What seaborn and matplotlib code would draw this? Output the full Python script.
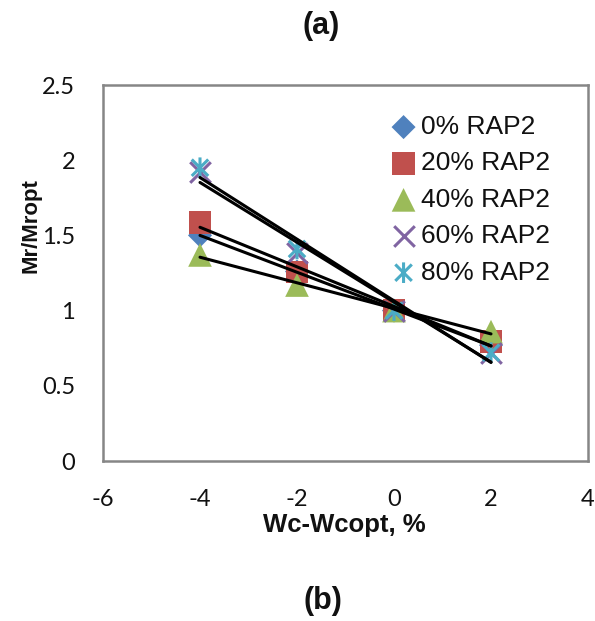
import numpy as np
import pandas as pd
import matplotlib
matplotlib.use("Agg")
import matplotlib.pyplot as plt
from matplotlib.path import Path
import seaborn as sns

# ---- data ----
wc_diff = [-4, -2, 0, 2]
series_names = ["0% RAP2", "20% RAP2", "40% RAP2", "60% RAP2", "80% RAP2"]
rap0 = [1.50, 1.26, 1.00, 0.77]
rap20 = [1.586, 1.257, 1.00, 0.795]
rap40 = [1.37, 1.17, 1.00, 0.86]
rap60 = [1.92, 1.38, 1.00, 0.72]
rap80 = [1.95, 1.41, 1.00, 0.72]
x_ticks = [-6, -4, -2, 0, 2, 4]
y_ticks = [0, 0.5, 1, 1.5, 2, 2.5]

values = [rap0, rap20, rap40, rap60, rap80]
df = pd.DataFrame({
    "x": wc_diff * len(series_names),
    "y": sum(values, []),
    "series": np.repeat(series_names, len(wc_diff)),
})

sns.set_theme(style="white")
plt.rcParams["font.family"] = ["Liberation Sans", "DejaVu Sans"]

asterisk = Path([(-1, -1), (1, 1), (-1, 1), (1, -1), (0, -1.25), (0, 1.25)],
                [Path.MOVETO, Path.LINETO, Path.MOVETO, Path.LINETO, Path.MOVETO, Path.LINETO])

styles = {
    "0% RAP2": dict(color="#4F81BD", marker="D", s=150, kind="filled"),
    "20% RAP2": dict(color="#C0504D", marker="s", s=260, kind="filled"),
    "40% RAP2": dict(color="#9BBB59", marker="^", s=290, kind="filled"),
    "60% RAP2": dict(color="#8064A2", marker="x", s=220, kind="line"),
    "80% RAP2": dict(color="#4BACC6", marker=asterisk, s=220, kind="path"),
}

fig = plt.figure(figsize=(5.95, 6.21), dpi=100)
ax = fig.add_axes([103/595, 1-461/621, (588-103)/595, (461-85)/621])

for name in series_names:
    st = styles[name]
    sub = df[df["series"] == name]
    if st["kind"] == "filled":
        sns.scatterplot(data=sub, x="x", y="y", ax=ax, color=st["color"], marker=st["marker"],
                        s=st["s"], edgecolor="none", linewidth=0, label=name, zorder=3)
    elif st["kind"] == "line":
        sns.scatterplot(data=sub, x="x", y="y", ax=ax, color=st["color"], marker=st["marker"],
                        s=st["s"], linewidth=2.2, label=name, zorder=3)
    else:
        sns.scatterplot(data=sub, x="x", y="y", ax=ax, marker=st["marker"],
                        s=st["s"], facecolor="none", edgecolor=st["color"],
                        linewidth=2.2, label=name, zorder=3)

for name in series_names:
    sub = df[df["series"] == name]
    sns.regplot(data=sub, x="x", y="y", ax=ax, scatter=False, ci=None, truncate=True,
                color="black", line_kws=dict(linewidth=2.2, zorder=4))

ax.set_xlim(-6, 4)
ax.set_ylim(0, 2.5)
ax.set_xticks(x_ticks)
ax.set_yticks(y_ticks)
ax.set_xticklabels([str(t) for t in x_ticks])
ax.set_yticklabels(["0", "0.5", "1", "1.5", "2", "2.5"])
ax.tick_params(axis="both", length=0, labelsize=17, pad=20, labelcolor="#111111")
for lab in ax.get_xticklabels() + ax.get_yticklabels():
    lab.set_family(["Lato", "DejaVu Sans"])
for sp in ax.spines.values():
    sp.set_visible(True)
    sp.set_color("#868686")
    sp.set_linewidth(1.8)

ax.set_xlabel("")
ax.set_ylabel("")
fig.text(344/595, 1-525/621, "Wc-Wcopt, %", ha="center", va="center", fontsize=18.5, fontweight="bold", color="#111111")
fig.text(31/595, 1-226/621, "Mr/Mropt", ha="center", va="center", rotation=90, fontsize=16, fontweight="bold", color="#111111")
fig.text(321/595, 1-26/621, "(a)", ha="center", va="center", fontsize=22, fontweight="bold", color="#111111")
fig.text(323/595, 1-601/621, "(b)", ha="center", va="center", fontsize=22, fontweight="bold", color="#111111")

leg = ax.legend(loc="upper left", bbox_to_anchor=(393/595, 1-115/621), bbox_transform=fig.transFigure,
                frameon=False, fontsize=19, handlelength=0.8, handletextpad=0.25,
                labelspacing=0.47, borderpad=0, borderaxespad=0)
for t in leg.get_texts():
    t.set_color("#111111")

fig.savefig("out.png", dpi=100)
